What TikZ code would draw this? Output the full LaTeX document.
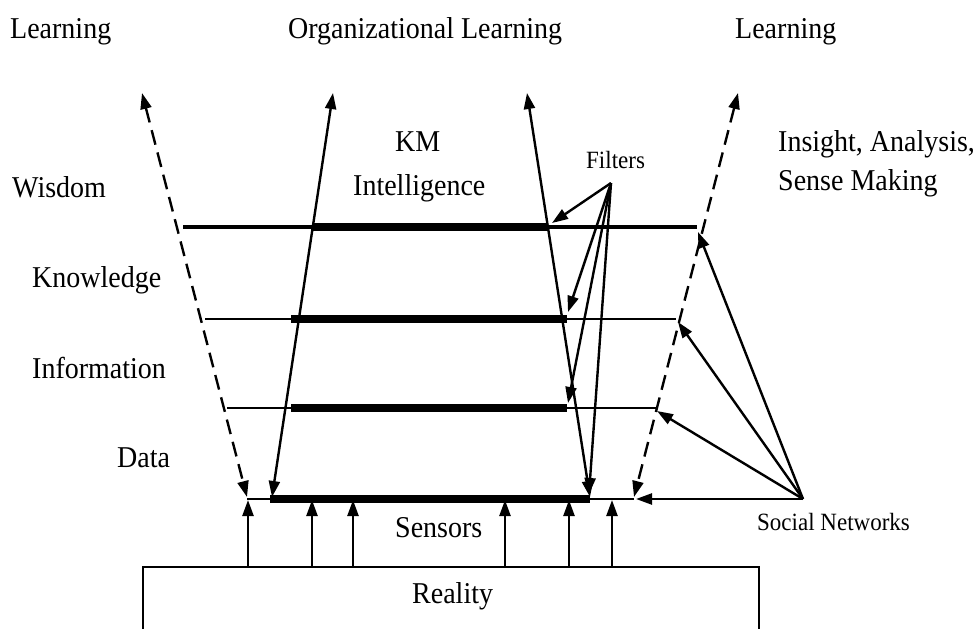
\documentclass[tikz,border=0pt]{standalone}
\usepackage{fontspec}
\setmainfont{Liberation Serif}
\usetikzlibrary{arrows.meta}
\newcommand{\tallbox}[1]{\scalebox{1}[1.08]{#1}}
\begin{document}
\begin{tikzpicture}[x=1pt,y=-1pt,
  lbl/.style={anchor=base west,inner sep=0pt,font=\fontsize{28}{32}\selectfont},
  slbl/.style={anchor=base west,inner sep=0pt,font=\fontsize{23}{26}\selectfont},
  tip/.style={-{Triangle[length=16pt,width=11pt]}},
  dtip/.style={{Triangle[length=16pt,width=11pt]}-{Triangle[length=16pt,width=11pt]}},
  conn/.style={line width=2.4pt},
  dashconn/.style={line width=2.4pt,dash pattern=on 15pt off 8pt},
  thinlevel/.style={line width=2pt},
  thicklevel/.style={line width=8pt}]
\useasboundingbox (0,0) rectangle (977,629);
\clip (0,0) rectangle (977,629);
% texts
\node[lbl] (learnL) at (10,38) {\tallbox{Learning}};
\node[lbl] (orgL) at (288,38) {\tallbox{Organizational Learning}};
\node[lbl] (learnR) at (735,38) {\tallbox{Learning}};
\node[lbl] (km) at (395,151) {\tallbox{KM}};
\node[lbl] (intel) at (353,195) {\tallbox{Intelligence}};
\node[slbl] (filters) at (586,168) {\tallbox{Filters}};
\node[lbl] (insight) at (778,151) {\tallbox{Insight, Analysis,}};
\node[lbl] (sense) at (778,190) {\tallbox{Sense Making}};
\node[lbl] (wisdom) at (12,197) {\tallbox{Wisdom}};
\node[lbl] (knowledge) at (32,287) {\tallbox{Knowledge}};
\node[lbl] (information) at (32,378) {\tallbox{Information}};
\node[lbl] (data) at (117,467) {\tallbox{Data}};
\node[lbl] (sensors) at (395,537) {\tallbox{Sensors}};
\node[lbl] (reality) at (412,603) {\tallbox{Reality}};
\node[slbl] (social) at (757,530) {\tallbox{Social Networks}};
% coordinates
\coordinate (dlT) at (142,93);  \coordinate (dlB) at (247,497);
\coordinate (slT) at (333,93);  \coordinate (slB) at (272,497);
\coordinate (srT) at (527,93);  \coordinate (srB) at (590,497);
\coordinate (drT) at (738,93);  \coordinate (drB) at (634,497);
\coordinate (wA) at (183,227); \coordinate (wB) at (697,227);
\coordinate (wT1) at (312,227); \coordinate (wT2) at (548,227);
\coordinate (kA) at (205,319); \coordinate (kB) at (676,319);
\coordinate (kT1) at (291,319); \coordinate (kT2) at (567,319);
\coordinate (iA) at (227,408); \coordinate (iB) at (656,408);
\coordinate (iT1) at (291,408); \coordinate (iT2) at (567,408);
\coordinate (dA) at (247,499); \coordinate (dB) at (634,499);
\coordinate (dT1) at (270,499); \coordinate (dT2) at (590,499);
\coordinate (fsrc) at (611,183);
\coordinate (ssrc) at (803,499);
% level lines
\draw[line width=3.2pt] (wA) -- (wB);
\draw[thicklevel] (wT1) -- (wT2);
\draw[thinlevel] (kA) -- (kB);
\draw[thicklevel] (kT1) -- (kT2);
\draw[thinlevel] (iA) -- (iB);
\draw[thicklevel] (iT1) -- (iT2);
\draw[thinlevel] (dA) -- (dB);
\draw[thicklevel] (dT1) -- (dT2);
% main arrows
\draw[dashconn,dtip] (dlT) -- (dlB);
\draw[dashconn,dtip] (drT) -- (drB);
\draw[conn,dtip] (slT) -- (slB);
\draw[conn,dtip] (srT) -- (srB);
% filters
\draw[conn,tip] (fsrc) -- (552,223);
\draw[conn,tip] (fsrc) -- (568,312);
\draw[conn,tip] (fsrc) -- (568,403);
\draw[conn,tip] (fsrc) -- (589,494);
% social networks
\draw[conn,tip] (ssrc) -- (698,232);
\draw[conn,tip] (ssrc) -- (678,322);
\draw[conn,tip] (ssrc) -- (657,411);
\draw[conn,tip] (ssrc) -- (636,499);
% reality box
\draw[line width=2.6pt] (143,640) -- (143,567) -- (759,567) -- (759,640);
% sensors
\foreach \x/\n in {248/a,312/b,353/c,505/d,569/e,612/f}{
  \coordinate (sb\n) at (\x,567);
  \coordinate (st\n) at (\x,500);
  \draw[conn,tip] (sb\n) -- (st\n);
}
\end{tikzpicture}
\end{document}
